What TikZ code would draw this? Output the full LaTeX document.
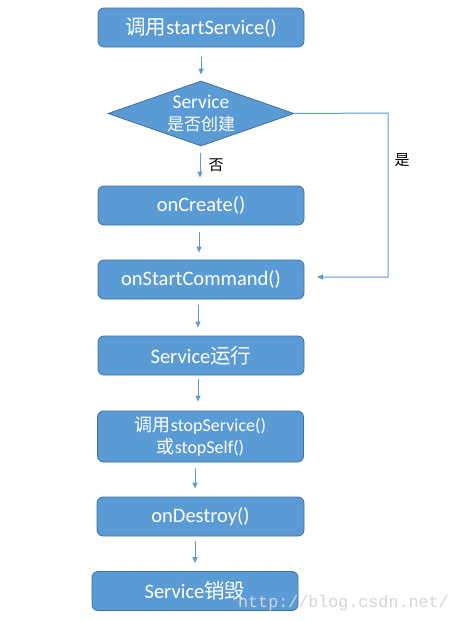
\documentclass[tikz,border=0pt]{standalone}
\usepackage{fontspec}
\setmainfont{Carlito}
\newfontfamily\cjk{Noto Sans CJK SC}
\newfontfamily\wmfont{Liberation Mono}
\usetikzlibrary{shapes.geometric,arrows.meta}
\definecolor{boxfill}{HTML}{5B9BD5}
\definecolor{boxline}{HTML}{41719C}
\definecolor{wm}{HTML}{D4D4D4}
\tikzset{
  procbox/.style={draw=boxline, line width=0.8pt, fill=boxfill, rounded corners=6pt,
    minimum width=206pt, minimum height=39pt, inner sep=0pt, text=white,
    font=\fontsize{20.5}{22}\selectfont, align=center},
  decbox/.style={diamond, draw=boxline, line width=0.8pt, fill=boxfill,
    minimum width=186pt, minimum height=65pt, inner sep=0pt},
  dectext/.style={text=white, font=\fontsize{19.5}{22}\selectfont, align=center, inner sep=0pt},
  arr/.style={draw=boxfill, line width=1pt, -{Triangle[length=6pt,width=5pt]}},
  lbl/.style={font=\cjk\fontsize{15}{17}\selectfont, text=black}
}
\begin{document}
\begin{tikzpicture}[x=1pt,y=-1pt]
\useasboundingbox (0,0) rectangle (459,621);
\node[procbox] (b1) at (201,27.5) {{\cjk 调用}startService()};
\node[decbox, label={[dectext]center:Service\\{\cjk\fontsize{17}{19}\selectfont 是否创建}}] (d) at (201,113.5) {};
\node[procbox] (b2) at (201,205.5) {onCreate()};
\node[procbox] (b3) at (201,279.5) {onStartCommand()};
\node[procbox] (b4) at (201,355.5) {Service{\cjk 运行}};
\node[procbox, minimum height=51pt, font=\fontsize{18}{22}\selectfont] (b5) at (200.5,436.5) {{\cjk 调用}stopService()\\{\cjk 或}stopSelf()};
\node[procbox, minimum width=207pt] (b6) at (200.5,516.5) {onDestroy()};
\node[procbox] (b7) at (195,591) {Service{\cjk 销毁}};
\node[wm, font=\wmfont\fontsize{16.7}{18}\selectfont, anchor=base west, inner sep=0pt] (w) at (238,607) {http://blog.csdn.net/};

\draw[arr, shorten <=10pt, shorten >=6pt] (b1.south) -- (d.north);
\draw[arr, shorten <=7pt, shorten >=8pt] ([xshift=-1pt]d.south) -- ([xshift=-1pt]b2.north);
\draw[arr, shorten <=7pt, shorten >=7pt] ([xshift=-2pt]b2.south) -- ([xshift=-2pt]b3.north);
\draw[arr, shorten <=6pt, shorten >=8pt] ([xshift=-3pt]b3.south) -- ([xshift=-3pt]b4.north);
\draw[arr, shorten <=4pt, shorten >=9pt] ([xshift=-3pt]b4.south) -- ([xshift=-2.5pt]b5.north);
\draw[arr, shorten <=6pt, shorten >=8pt] ([xshift=-5.5pt]b5.south) -- ([xshift=-5.5pt]b6.north);
\draw[arr, shorten <=5pt, shorten >=8pt] ([xshift=-5.5pt]b6.south) -- (b7.north);

\coordinate (c1) at (388,113);
\coordinate (c2) at (317,277);
\draw[arr] (d.east) -- (c1) |- (c2);
\node[lbl] (no) at (216,165) {否};
\node[lbl] (yes) at (402,160) {是};
\end{tikzpicture}
\end{document}
